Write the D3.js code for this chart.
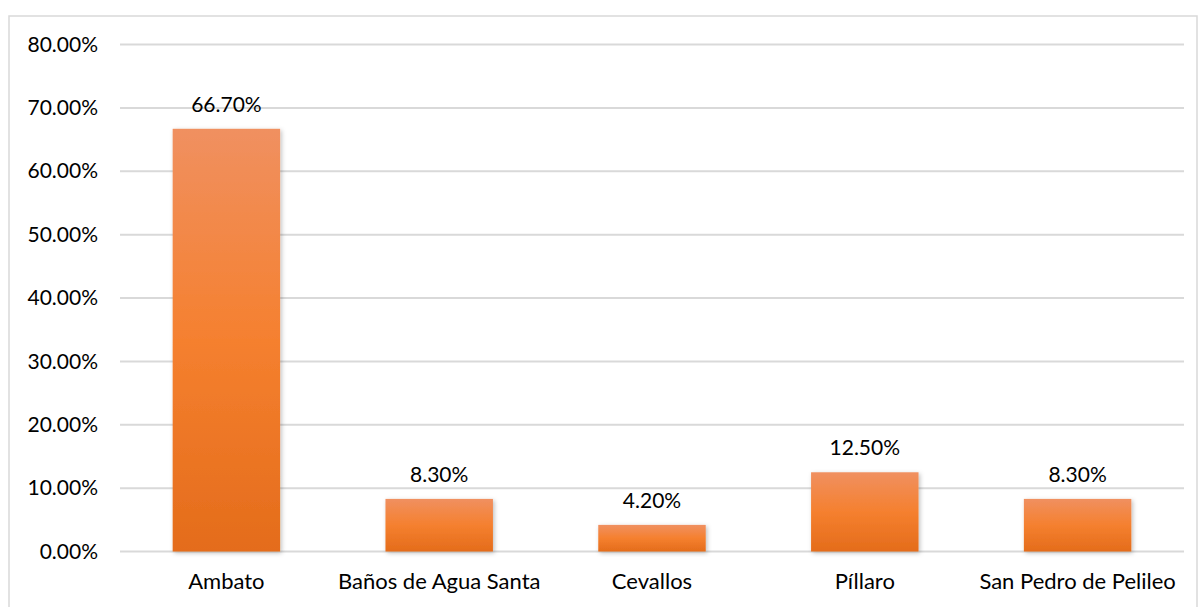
<!DOCTYPE html>
<html>
<head>
<meta charset="utf-8">
<script src="https://cdn.jsdelivr.net/npm/d3@7"></script>
<style>
  body { margin: 0; background: #fff; }
  svg { display: block; }
</style>
</head>
<body>
<script>
// Datos
const categories = ["Ambato", "Baños de Agua Santa", "Cevallos", "Píllaro", "San Pedro de Pelileo"];
const values = [66.7, 8.3, 4.2, 12.5, 8.3];
const yTicks = [0, 10, 20, 30, 40, 50, 60, 70, 80];

const w = 1198;
const h = 607;
const plotLeft = 120, plotRight = 1184, plotTop = 44.5, plotBottom = 551.5;
const font = "Lato, 'Open Sans', sans-serif";

const svg = d3.select("body")
    .append("svg")
    .attr("width", w)
    .attr("height", h);

// Degradado y sombra
const defs = svg.append("defs");
const grad = defs.append("linearGradient")
    .attr("id", "barGrad")
    .attr("x1", 0).attr("y1", 0).attr("x2", 0).attr("y2", 1);
grad.append("stop").attr("offset", "0%").attr("stop-color", "#f09060");
grad.append("stop").attr("offset", "50%").attr("stop-color", "#f5802f");
grad.append("stop").attr("offset", "100%").attr("stop-color", "#e46c1b");

const shadow = defs.append("filter")
    .attr("id", "shadow")
    .attr("x", "-20%").attr("y", "-20%")
    .attr("width", "140%").attr("height", "140%");
shadow.append("feDropShadow")
    .attr("dx", 1.5).attr("dy", 1.5)
    .attr("stdDeviation", 2)
    .attr("flood-color", "#000")
    .attr("flood-opacity", 0.25);

// Borde del gráfico
svg.append("rect")
    .attr("x", 9)
    .attr("y", 16)
    .attr("width", 1188)
    .attr("height", 600)
    .attr("fill", "none")
    .attr("stroke", "#d9d9d9")
    .attr("stroke-width", 1.5);

// Escalas
const xScale = d3.scaleBand()
    .domain(categories)
    .range([plotLeft, plotRight])
    .paddingInner(0.495)
    .paddingOuter(0.2475);

const yScale = d3.scaleLinear()
    .domain([0, 80])
    .range([plotBottom, plotTop]);

// Líneas de cuadrícula
svg.append("g")
    .selectAll("line")
    .data(yTicks)
    .enter()
    .append("line")
    .attr("x1", plotLeft)
    .attr("x2", plotRight)
    .attr("y1", d => yScale(d))
    .attr("y2", d => yScale(d))
    .attr("stroke", "#d9d9d9")
    .attr("stroke-width", 2);

// Eje Y
const yAxis = d3.axisLeft(yScale)
    .tickValues(yTicks)
    .tickSize(0)
    .tickPadding(22)
    .tickFormat(d => d.toFixed(2) + "%");

svg.append("g")
    .attr("transform", `translate(${plotLeft}, 0)`)
    .call(yAxis)
    .call(g => g.select(".domain").remove())
    .call(g => g.selectAll("text")
        .attr("font-family", font)
        .attr("font-size", "21px")
        .attr("fill", "#000"));

// Barras
svg.append("g")
    .selectAll("rect")
    .data(values)
    .enter()
    .append("rect")
    .attr("x", (d, i) => xScale(categories[i]))
    .attr("y", d => yScale(d))
    .attr("width", xScale.bandwidth())
    .attr("height", d => yScale(0) - yScale(d))
    .attr("fill", "url(#barGrad)")
    .attr("filter", "url(#shadow)");

// Etiquetas de valores
svg.append("g")
    .selectAll("text")
    .data(values)
    .enter()
    .append("text")
    .attr("x", (d, i) => xScale(categories[i]) + xScale.bandwidth() / 2)
    .attr("y", d => yScale(d) - 17)
    .attr("text-anchor", "middle")
    .attr("font-family", font)
    .attr("font-size", "21px")
    .attr("fill", "#000")
    .text(d => d.toFixed(2) + "%");

// Eje X
const xAxis = d3.axisBottom(xScale)
    .tickSize(0)
    .tickPadding(22);

svg.append("g")
    .attr("transform", `translate(0, ${plotBottom})`)
    .call(xAxis)
    .call(g => g.select(".domain").remove())
    .call(g => g.selectAll("text")
        .attr("font-family", font)
        .attr("font-size", "22px")
        .attr("fill", "#000"));
</script>
</body>
</html>
